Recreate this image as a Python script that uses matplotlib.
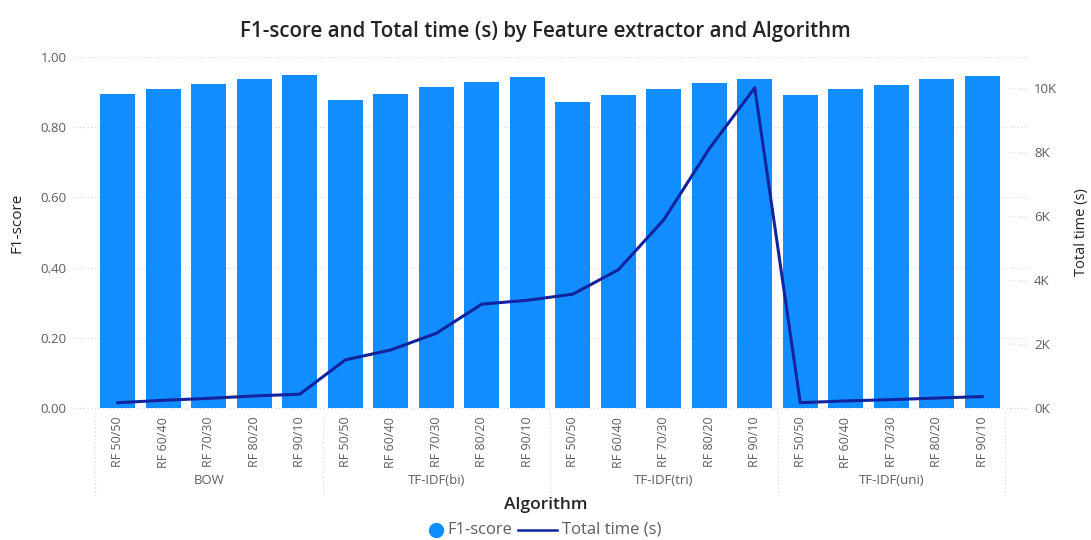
import numpy as np
import matplotlib
matplotlib.use("Agg")
import matplotlib.pyplot as plt
from matplotlib.lines import Line2D

plt.rcParams['font.family'] = ['Open Sans', 'DejaVu Sans']

# feature extractors and the split ratios run for each
extractors = ["BOW", "TF-IDF(bi)", "TF-IDF(tri)", "TF-IDF(uni)"]
splits = ["RF 50/50", "RF 60/40", "RF 70/30", "RF 80/20", "RF 90/10"]

f1_bow = [0.893, 0.907, 0.922, 0.937, 0.947]
f1_bi = [0.878, 0.895, 0.914, 0.927, 0.942]
f1_tri = [0.872, 0.890, 0.907, 0.925, 0.937]
f1_uni = [0.892, 0.909, 0.920, 0.936, 0.945]

time_bow = [175, 250, 310, 385, 440]
time_bi = [1510, 1820, 2340, 3250, 3370]
time_tri = [3560, 4320, 5880, 8100, 10000]
time_uni = [175, 230, 270, 320, 365]

f1 = f1_bow + f1_bi + f1_tri + f1_uni
total_time = time_bow + time_bi + time_tri + time_uni
labels = splits * len(extractors)

BAR = "#118DFF"
LINE = "#12239E"
TICK = "#605E5C"
DARK = "#252423"
GRID = "#D9D9D9"

W, H = 1091, 540
fig = plt.figure(figsize=(W / 100, H / 100), dpi=100)
ax = fig.add_axes([95 / W, 1 - 408.3 / H, 910 / W, (408.3 - 56.7) / H])
x = np.arange(len(f1))
ax.bar(x, f1, width=0.77, color=BAR, zorder=2)
ax.set_xlim(-0.5, len(f1) - 0.5)
ax.set_ylim(0, 1.0)
f1_ticks = np.arange(0, 1.01, 0.2)
ax.set_yticks(f1_ticks)
ax.set_yticklabels([f"{v:.2f}" for v in f1_ticks], color=TICK, fontsize=9.5)
ax.tick_params(axis="y", length=0, pad=20.5)
ax.set_xticks(x)
ax.set_xticklabels(labels, rotation=90, color=TICK, fontsize=9)
ax.tick_params(axis="x", length=0, pad=6)
for s in ax.spines.values():
    s.set_visible(False)

# dotted gridlines, running a little past both edges
for v in f1_ticks:
    ax.plot([-0.025, 1.025], [v, v], transform=ax.get_yaxis_transform(), color=GRID,
            lw=0.9, ls=(0, (1, 2)), clip_on=False, zorder=0)

# group separators and group names under the tick labels
trans = ax.get_xaxis_transform()
for i in range(len(extractors) + 1):
    ax.plot([i * 5 - 0.5] * 2, [-0.01, -0.25], transform=trans, color=GRID,
            lw=0.9, ls=(0, (1, 2)), clip_on=False)
for i, name in enumerate(extractors):
    ax.text(i * 5 + 2, -0.205, name, transform=trans, ha="center", va="center",
            color=TICK, fontsize=9.5)

ax.set_ylabel("F1-score", color=DARK, fontsize=11)
ax.yaxis.set_label_coords(-0.078, 0.527)

ax2 = ax.twinx()
ax2.plot(x, total_time, color=LINE, lw=2.2, zorder=3)
ax2.set_ylim(0, 10970)
time_ticks = np.arange(0, 10001, 2000)
ax2.set_yticks(time_ticks)
ax2.set_yticklabels([f"{int(v / 1000)}K" for v in time_ticks], color=TICK, fontsize=9.5)
ax2.tick_params(axis="y", length=0, pad=21)
for s in ax2.spines.values():
    s.set_visible(False)
for v in time_ticks:
    ax2.plot([1.005, 1.025], [v, v], transform=ax2.get_yaxis_transform(), color=GRID,
             lw=0.9, ls=(0, (1, 2)), clip_on=False, zorder=0)
ax2.set_ylabel("Total time (s)", color=DARK, fontsize=10.5, rotation=90)
ax2.yaxis.set_label_coords(1.076, 0.50)

fig.text(0.5, 1 - 32 / H, "F1-score and Total time (s) by Feature extractor and Algorithm",
         ha="center", va="center", color=DARK, fontsize=14.8, fontweight="semibold")
fig.text(0.5, 1 - 505 / H, "Algorithm", ha="center", va="center", color=DARK,
         fontsize=12.5, fontweight="semibold")

# legend row: dot for the bars, short line for the time series
ly = 1 - 530 / H
fig.add_artist(Line2D([436 / W], [ly], marker="o", ms=10, color=BAR, ls="none",
                      transform=fig.transFigure))
fig.text(447 / W, ly, "F1-score", ha="left", va="center", color=TICK, fontsize=12)
fig.add_artist(Line2D([518 / W, 557 / W], [ly, ly], color=LINE, lw=1.8,
                      transform=fig.transFigure))
fig.text(562 / W, ly, "Total time (s)", ha="left", va="center", color=TICK, fontsize=12)

fig.savefig("out.png", dpi=100)
